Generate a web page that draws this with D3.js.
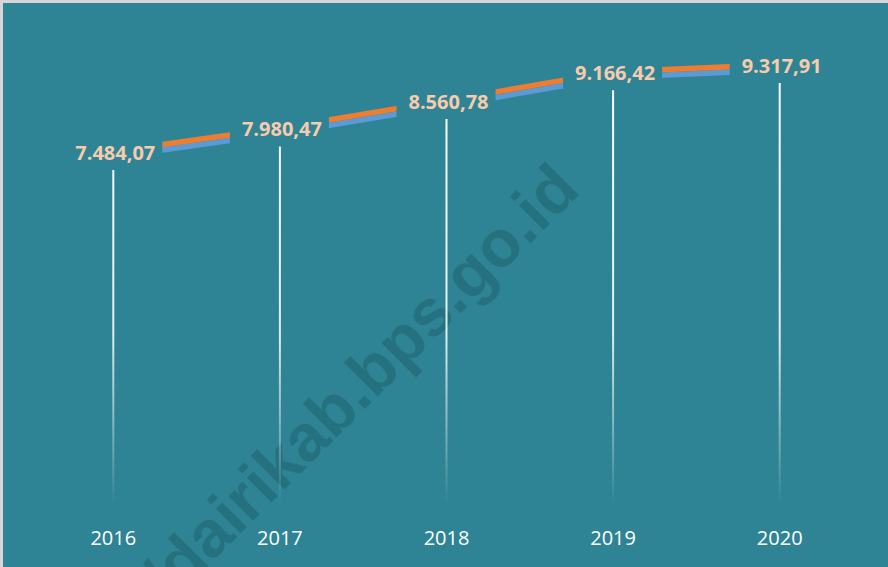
<!DOCTYPE html>
<html>
<head>
<meta charset="utf-8">
<script src="https://cdn.jsdelivr.net/npm/d3@7"></script>
<style>
  html, body { margin: 0; padding: 0; background: #fff; }
  svg { display: block; }
</style>
</head>
<body>
<svg id="chart" width="888" height="567"></svg>
<script>
// data
const years = ['2016', '2017', '2018', '2019', '2020'];
const values = [7484.07, 7980.47, 8560.78, 9166.42, 9317.91];
const watermarkText = '//dairikab.bps.go.id';

const W = 888, H = 567;
const BG = '#2e8494';

const svg = d3.select('#chart');

// id-ID style number format: 7.484,07
const idLocale = d3.formatLocale({ decimal: ',', thousands: '.', grouping: [3], currency: ['', ''] });
const fmt = idLocale.format(',.2f');

const data = years.map((y, i) => ({ year: y, value: values[i] }));

const x = d3.scaleBand().domain(years).range([30, 863]);
const y = d3.scaleLinear().domain([0, 10000]).range([525, 50.6]);
const cx = d => x(d.year) + x.bandwidth() / 2;

// background + light frame on top/left
svg.append('rect')
  .attr('width', W).attr('height', H)
  .attr('fill', BG);
svg.append('rect')
  .attr('x', 1.5).attr('y', 1.5)
  .attr('width', W).attr('height', H)
  .attr('fill', 'none')
  .attr('stroke', '#d6d6d6')
  .attr('stroke-width', 3);

// watermark (runs off the bottom edge, as in the source)
svg.append('text')
  .attr('transform', 'translate(582,192) rotate(-45)')
  .attr('text-anchor', 'end')
  .attr('font-family', 'Liberation Sans, Arial, sans-serif')
  .attr('font-weight', 'bold')
  .attr('font-size', 66)
  .attr('fill', '#1d5a68')
  .attr('fill-opacity', 0.45)
  .text(watermarkText);

// gradient for drop lines (white fading out toward the axis)
const defs = svg.append('defs');
const grad = defs.append('linearGradient')
  .attr('id', 'dropFade')
  .attr('gradientUnits', 'userSpaceOnUse')
  .attr('x1', 0).attr('x2', 0)
  .attr('y1', 80).attr('y2', 505);
grad.append('stop').attr('offset', 0).attr('stop-color', '#fff').attr('stop-opacity', 1);
grad.append('stop').attr('offset', 0.6).attr('stop-color', '#fff').attr('stop-opacity', 0.85);
grad.append('stop').attr('offset', 1).attr('stop-color', '#fff').attr('stop-opacity', 0);

// 3d-ish ribbon line: blue face under an orange top
const lineGroup = svg.append('g').attr('class', 'ribbon');
const ribbon = off => d3.line().x(cx).y(d => y(d.value) + off);

lineGroup.append('path')
  .datum(data)
  .attr('d', ribbon(-13))
  .attr('fill', 'none')
  .attr('stroke', '#5b9bd5')
  .attr('stroke-width', 5.5);

lineGroup.append('path')
  .datum(data)
  .attr('d', ribbon(-18.5))
  .attr('fill', 'none')
  .attr('stroke', '#ed7d31')
  .attr('stroke-width', 5.5);

// data labels with a filled box (hides the line behind them)
const labels = svg.append('g').attr('class', 'labels');
const lg = labels.selectAll('g').data(data).join('g');

const txt = lg.append('text')
  .attr('x', d => cx(d) + 2)
  .attr('y', d => y(d.value) - 10)
  .attr('text-anchor', 'middle')
  .attr('font-family', 'Open Sans, sans-serif')
  .attr('font-weight', 'bold')
  .attr('font-size', 20)
  .attr('fill', '#f8cbad')
  .text(d => fmt(d.value));

txt.each(function (d) {
  const bb = this.getBBox();
  d3.select(this.parentNode).insert('rect', 'text')
    .attr('x', bb.x - 12)
    .attr('y', bb.y)
    .attr('width', bb.width + 19)
    .attr('height', y(d.value) - 2 - bb.y)
    .attr('fill', BG);
});

// drop lines
svg.append('g').attr('class', 'drops')
  .selectAll('line')
  .data(data)
  .join('line')
  .attr('x1', cx).attr('x2', cx)
  .attr('y1', d => y(d.value))
  .attr('y2', 505)
  .attr('stroke', 'url(#dropFade)')
  .attr('stroke-width', 2);

// category axis labels
const xAxis = d3.axisBottom(x).tickSize(0).tickPadding(0);
const ax = svg.append('g')
  .attr('transform', 'translate(0,525)')
  .call(xAxis);
ax.select('.domain').remove();
ax.selectAll('text')
  .attr('dy', null)
  .attr('y', 20)
  .attr('font-family', 'Open Sans, sans-serif')
  .attr('font-size', 20)
  .attr('fill', '#fff');
</script>
</body>
</html>
